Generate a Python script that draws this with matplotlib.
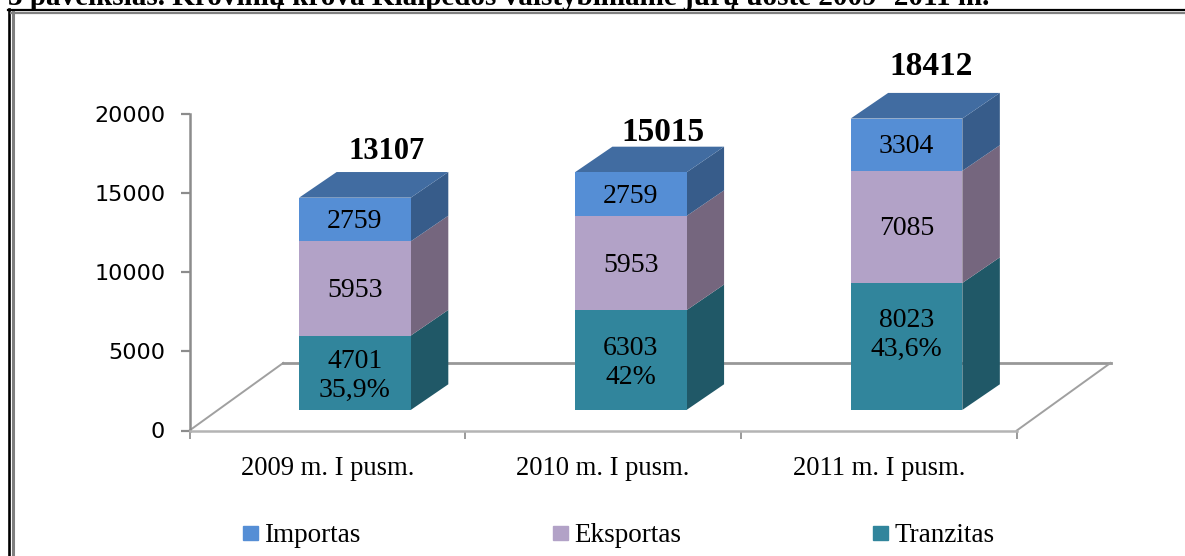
import matplotlib.pyplot as plt
from matplotlib.patches import Patch

plt.rcParams["font.family"] = ["Liberation Serif", "DejaVu Serif"]

categories = ["2009 m. I pusm.", "2010 m. I pusm.", "2011 m. I pusm."]
y_ticks = [0, 5000, 10000, 15000, 20000]

tranzitas = [4701, 6303, 8023]
eksportas = [5953, 5953, 7085]
importas = [2759, 2759, 3304]
totals = [13107, 15015, 18412]
shares = ["35,9%", "42%", "43,6%"]

W, H = 1185, 556
fig = plt.figure(figsize=(W / 100, H / 100), dpi=100)


def fx(px):
    return px / W


def fy(px):
    return 1 - px / H


# outer frame of the page, only top and left are visible
fig.add_artist(plt.Line2D([fx(9.3), fx(9.3)], [0, fy(9)], color="black", lw=1.9))
fig.add_artist(plt.Line2D([fx(8), 1], [fy(10), fy(10)], color="black", lw=1.6))
fig.add_artist(plt.Line2D([fx(12.5), fx(12.5)], [0, fy(12)], color="#808080", lw=2.2))
fig.add_artist(plt.Line2D([fx(11), 1], [fy(13), fy(13)], color="#808080", lw=1.6))

fig.text(
    fx(8),
    fy(5),
    "3 paveikslas. Krovinių krova Klaipėdos valstybiniame jūrų uoste 2009- 2011 m.",
    fontsize=21,
    fontweight="bold",
    ha="left",
    va="baseline",
)

ax = fig.add_axes([fx(189.5), fy(430.5), fx(1016.8 - 189.5), (430.5 - 114) / H])
ax.set_xlim(0, 3)
ax.set_ylim(0, 20000)
ax.patch.set_alpha(0)

for side in ["top", "right"]:
    ax.spines[side].set_visible(False)
ax.spines["left"].set_color("#8c8c8c")
ax.spines["left"].set_linewidth(1.8)
ax.spines["bottom"].set_color("#b4b4b4")
ax.spines["bottom"].set_linewidth(1.8)

ax.set_yticks(y_ticks)
ax.set_yticklabels([str(t) for t in y_ticks], family="DejaVu Sans", fontsize=16)
ax.tick_params(axis="y", length=6.5, width=1.6, color="#8c8c8c", pad=11)
ax.set_xticks([0, 1, 2, 3])
ax.set_xticklabels([])
ax.tick_params(axis="x", length=6, width=1.4, color="#9a9a9a", direction="out")

for i, name in enumerate(categories):
    ax.text(i + 0.5, -2370, name, fontsize=19.2, ha="center", va="center", clip_on=False)

# floor of the 3D box
floor_dx = 0.34
floor_dy = 4270
ax.plot([0, floor_dx], [0, floor_dy], color="#a0a0a0", lw=1.4, clip_on=False, zorder=1)
ax.plot([floor_dx, 3 + floor_dx], [floor_dy, floor_dy], color="#989898", lw=2, clip_on=False, zorder=1)
ax.plot([3, 3 + floor_dx], [0, floor_dy], color="#a0a0a0", lw=1.4, clip_on=False, zorder=1)

bar_width = 0.405
bar_shift = 0.1
bar_base = 1300
depth_x = 0.136
depth_y = 1620

series = [
    ("Tranzitas", tranzitas, "#31859c", "#205867", None),
    ("Eksportas", eksportas, "#b2a2c7", "#75667e", None),
    ("Importas", importas, "#558ed5", "#375c8a", "#416ca1"),
]

label_shift = [120, 150, 1060]
total_pos = [(0.716, 17850), (1.716, 19040), (2.689, 23230)]
total_size = [22, 24, 24]

bottoms = [bar_base] * 3
for name, values, front, dark, top in series:
    for i, v in enumerate(values):
        x0 = i + 0.5 + bar_shift - bar_width / 2
        x1 = x0 + bar_width
        b = bottoms[i]
        ax.fill(
            [x1, x1 + depth_x, x1 + depth_x, x1],
            [b, b + depth_y, b + v + depth_y, b + v],
            color=dark,
            lw=0,
            zorder=2,
            clip_on=False,
        )
        if top:
            ax.fill(
                [x0, x0 + depth_x, x1 + depth_x, x1],
                [b + v, b + v + depth_y, b + v + depth_y, b + v],
                color=top,
                lw=0,
                zorder=2,
                clip_on=False,
            )
    ax.bar(
        [i + 0.5 + bar_shift for i in range(3)],
        values,
        bar_width,
        bottom=bottoms,
        color=front,
        zorder=3,
        clip_on=False,
    )
    for i, v in enumerate(values):
        label = str(v)
        shift = 60
        if name == "Tranzitas":
            label = f"{v}\n{shares[i]}"
            shift = label_shift[i]
        ax.text(
            i + 0.5 + bar_shift,
            bottoms[i] + v / 2 + shift,
            label,
            fontsize=20,
            ha="center",
            va="center_baseline",
            linespacing=1.22,
            zorder=4,
        )
    bottoms = [b + v for b, v in zip(bottoms, values)]

for (x, y), t, s in zip(total_pos, totals, total_size):
    ax.text(x, y, str(t), fontsize=s, fontweight="bold", ha="center", va="center_baseline", clip_on=False)

handles = [
    Patch(color="#558ed5", label="Importas"),
    Patch(color="#b2a2c7", label="Eksportas"),
    Patch(color="#31859c", label="Tranzitas"),
]
fig.legend(
    handles=handles,
    loc="center",
    bbox_to_anchor=(fx(619), fy(536)),
    ncols=3,
    frameon=False,
    fontsize=19.5,
    columnspacing=7.1,
    handlelength=0.54,
    handleheight=0.45,
    handletextpad=0.24,
    borderpad=0,
)

plt.savefig("out.png", dpi=100)
plt.close()
